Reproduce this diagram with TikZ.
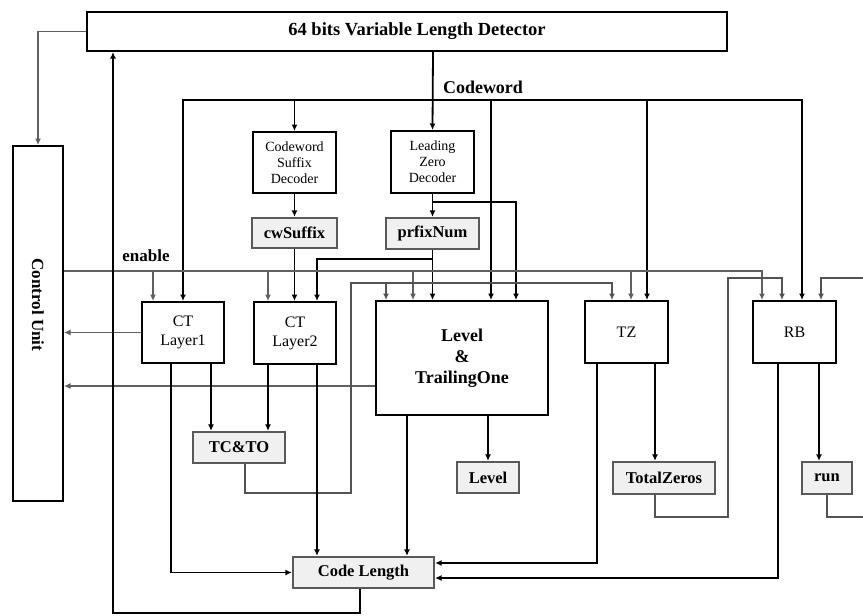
\documentclass[tikz,border=0pt]{standalone}
\usepackage{fontspec}
\setmainfont{Liberation Serif}
\usetikzlibrary{calc,arrows.meta}

\begin{document}
\begin{tikzpicture}[x=1pt, y=-1pt, >={Latex[length=6.5pt,width=6pt]},
    unit/.style={draw, line width=2pt, fill=white, inner sep=0pt, align=center,
                 font=\fontsize{16}{19}\selectfont},
    reg/.style={draw=gray!70!black, line width=2.2pt, fill=gray!12, inner sep=0pt,
                minimum height=31pt, font=\fontsize{16.5}{18}\selectfont\bfseries},
    bus/.style={line width=1.8pt},
    ctl/.style={gray!75!black, line width=1.1pt},
    fb/.style={gray!65!black, line width=1.6pt}]
    \useasboundingbox (0,0) rectangle (863,616);

    % Blocks
    \node[unit, minimum width=640pt, minimum height=39pt] (vld) at (407,31.5)
        {\hspace{20pt}\bfseries\fontsize{18.5}{20}\selectfont 64 bits Variable Length Detector};
    \node[unit, minimum width=50pt, minimum height=355pt] (cu) at (38,323.5) {};
    \node[rotate=-90, font=\fontsize{17}{18}\selectfont\bfseries] (cutext) at (38,305) {Control Unit};
    \node[unit, minimum width=83pt, minimum height=61pt, font=\fontsize{14}{16}\selectfont] (csd) at (294.5,162.5)
        {Codeword\\Suffix\\Decoder};
    \node[unit, minimum width=83pt, minimum height=62pt, font=\fontsize{14}{16}\selectfont] (lzd) at (432.5,162)
        {Leading\\Zero\\Decoder};
    \node[unit, minimum width=82pt, minimum height=61pt] (ct1) at (183,332.5) {CT\\Layer1};
    \node[unit, minimum width=82pt, minimum height=62pt] (ct2) at (295,333) {CT\\Layer2};
    \node[unit, minimum width=172pt, minimum height=114pt, font=\fontsize{18}{21}\selectfont\bfseries] (lt) at (462,358)
        {Level\\\&\\TrailingOne};
    \node[unit, minimum width=83pt, minimum height=62pt] (tz) at (626.5,332) {TZ};
    \node[unit, minimum width=83pt, minimum height=62pt] (rb) at (794.5,332) {RB};

    % Registers
    \node[reg, minimum width=85pt, minimum height=30pt] (cws) at (294.5,233) {cwSuffix};
    \node[reg, minimum width=93pt] (pfx) at (432.5,233.5) {prfixNum};
    \node[reg, minimum width=92pt] (tcto) at (239,447.5) {TC\&TO};
    \node[reg, minimum width=62pt] (lvl) at (488,477.5) {Level};
    \node[reg, minimum width=102pt, minimum height=32pt] (tzo) at (664,478) {TotalZeros};
    \node[reg, minimum width=50pt, minimum height=32pt] (run) at (827,478) {run};
    \node[reg, minimum width=141pt] (cl) at (363.5,572.5) {Code Length};

    % Labels
    \node[font=\fontsize{18}{20}\selectfont\bfseries] (cwlabel) at (483,87) {Codeword};
    \node[font=\fontsize{17}{18}\selectfont\bfseries] (enlabel) at (146,256) {enable};

    % Codeword bus
    \coordinate (cw) at (433,100);
    \draw[bus,->] (433,0 |- vld.south) -- (lzd.north);
    \draw[bus,->] (cw) -| (ct1.north);
    \draw[bus,->] (cw) -| (802,0 |- rb.north);
    \draw[bus,->] (csd.north |- cw) -- (csd.north);
    \draw[bus,->] (491,0 |- cw) -- (491,0 |- lt.north);
    \draw[bus,->] (647,0 |- cw) -- (647,0 |- tz.north);

    % Decoder outputs
    \draw[bus,->] (csd.south) -- (cws.north);
    \draw[bus,->] (lzd.south) -- (pfx.north);
    \coordinate (lzj) at (433,202);
    \draw[bus,->] (lzj) -| (516,0 |- lt.north);
    \draw[bus,->] (cws.south) -- (cws.south |- ct2.north);
    \draw[bus,->] (pfx.south) -- (pfx.south |- lt.north);
    \coordinate (pj) at (433,259);
    \draw[bus,->] (pj) -| (317,0 |- ct2.north);

    % Enable and control
    \draw[ctl,->] (vld.west) -| (cu.north);
    \draw[ctl,->] (cu.east |- 0,271) -| (762,0 |- rb.north);
    \foreach \x/\n in {153/ct1, 268/ct2, 413/lt, 631/tz}
        \draw[ctl,->] (\x,271) -- (\x,0 |- \n.north);
    \draw[ctl,->] (ct1.west) -- (ct1.west -| cu.east);
    \draw[ctl,->] (lt.west |- 0,386) -- (cu.east |- 0,386);

    % Feedback of registers
    \draw[fb,->] (245,0 |- tcto.south) |- (351,493) |- (612,283) -- (612,0 |- tz.north);
    \draw[fb,->] (386,283) -- (386,0 |- lt.north);
    \draw[fb,->] (655,0 |- tzo.south) |- (728,517) |- (782,278) -- (782,0 |- rb.north);
    \coordinate (runout) at (863,517);
    \coordinate (runin) at (863,278);
    \draw[fb] (run.south) |- (runout);
    \draw[fb,->] (runin) -| (821,0 |- rb.north);

    % Block outputs
    \draw[bus,->] (211,0 |- ct1.south) -- (211,0 |- tcto.north);
    \draw[bus,->] (171,0 |- ct1.south) |- (cl.west);
    \draw[bus,->] (268,0 |- ct2.south) -- (268,0 |- tcto.north);
    \draw[bus,->] (317,0 |- ct2.south) -- (317,0 |- cl.north);
    \draw[bus,->] (407,0 |- lt.south) -- (407,0 |- cl.north);
    \draw[bus,->] (lvl.north |- lt.south) -- (lvl.north);
    \draw[bus,->] (597,0 |- tz.south) |- (cl.east |- 0,563);
    \draw[bus,->] (655,0 |- tz.south) -- (655,0 |- tzo.north);
    \draw[bus,->] (778,0 |- rb.south) |- (cl.east |- 0,578);
    \draw[bus,->] (819,0 |- rb.south) -- (819,0 |- run.north);

    % Code length back to detector
    \draw[bus,->] (360,0 |- cl.south) |- (113,613) -- (113,0 |- vld.south);
\end{tikzpicture}
\end{document}
